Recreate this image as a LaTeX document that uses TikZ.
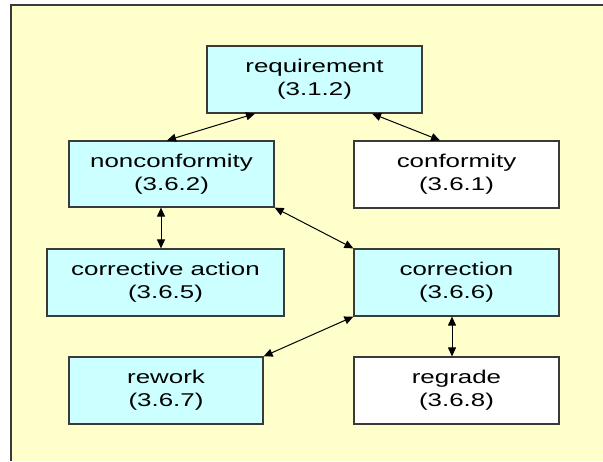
\documentclass[tikz,border=0pt]{standalone}
\usepackage{fontspec}
\setmainfont{Liberation Sans}[FakeStretch=1.4]
\usetikzlibrary{arrows.meta}
\definecolor{pagebg}{HTML}{FFFFCC}
\definecolor{termfill}{HTML}{CCFFFF}
\definecolor{edgegray}{HTML}{3A3A3A}
\tikzset{
  term/.style={draw=edgegray, line width=1.2pt, fill=termfill, align=center,
    inner sep=0pt, font=\fontsize{18.5}{23}\selectfont},
  plainterm/.style={term, fill=white},
  link/.style={draw=black, line width=1pt,
    {Triangle[length=9pt,width=8pt]}-{Triangle[length=9pt,width=8pt]}},
}
\begin{document}
\begin{tikzpicture}[x=1pt, y=-1pt]
  \useasboundingbox (0,0) rectangle (603,461);
  \fill[white] (0,0) rectangle (603,461);
  % framed yellow panel, cut off on the right and at the bottom
  \fill[pagebg] (11,5) rectangle (603,461);
  \draw[edgegray, line width=1.6pt] (11,461) -- (11,5) -- (603,5);

  % terms
  \node[term, minimum width=215pt, minimum height=67pt] (req)  at (314.5,79.5) {requirement\\(3.1.2)};
  \node[term, minimum width=205pt, minimum height=66pt] (nc)   at (171.5,174)  {nonconformity\\(3.6.2)};
  \node[plainterm, minimum width=205pt, minimum height=67pt] (conf) at (456.5,174.5) {conformity\\(3.6.1)};
  \node[term, minimum width=237pt, minimum height=67pt] (ca)   at (165.5,282.5) {corrective action\\(3.6.5)};
  \node[term, minimum width=205pt, minimum height=67pt] (corr) at (456.5,282.5) {correction\\(3.6.6)};
  \node[term, minimum width=194pt, minimum height=67pt] (rw)   at (166,390.5)   {rework\\(3.6.7)};
  \node[plainterm, minimum width=205pt, minimum height=67pt] (rg)   at (456.5,390.5) {regrade\\(3.6.8)};

  % relations
  \draw[link] ([xshift=-59.5pt]req.south) -- ([xshift=-4.5pt]nc.north);
  \draw[link] ([xshift=57.5pt]req.south) -- ([xshift=-16.5pt]conf.north);
  \draw[link] ([xshift=-10.5pt]nc.south) -- ([xshift=-10.5pt]nc.south |- ca.north);
  \draw[link] (nc.south east) -- (corr.north west);
  \draw[link] (corr.south west) -- (rw.north east);
  \draw[link] ([xshift=-4.5pt]corr.south) -- ([xshift=-4.5pt]rg.north);
\end{tikzpicture}
\end{document}
